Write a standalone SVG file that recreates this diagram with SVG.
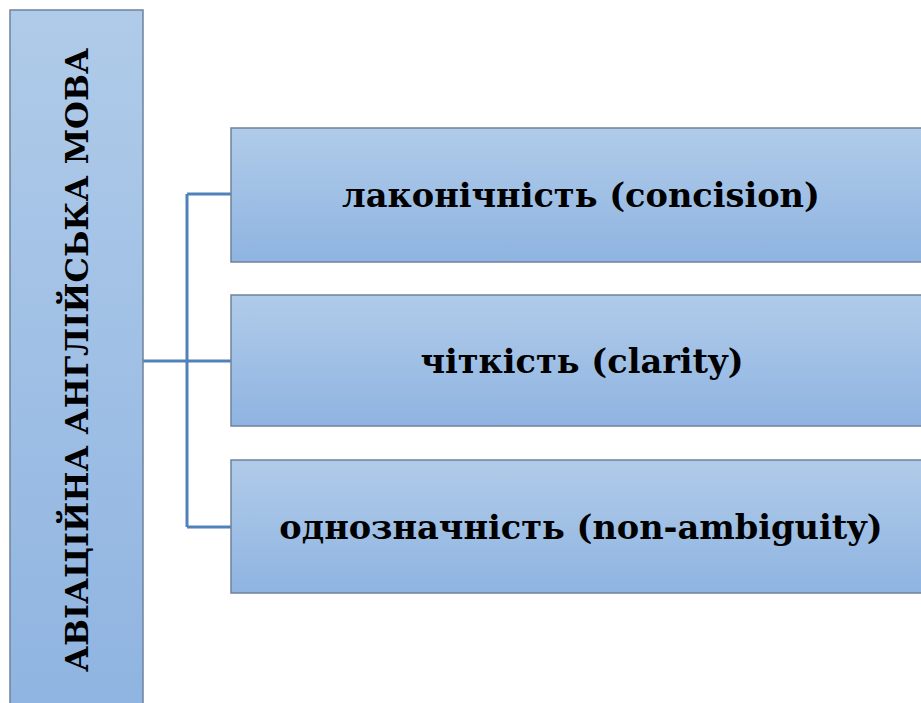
<svg xmlns="http://www.w3.org/2000/svg" width="921" height="703" viewBox="0 0 921 703">
<style>
.box{fill:url(#g);stroke:#6f829b;stroke-width:1.5}
.conn{fill:none;stroke:#5081b8;stroke-width:3}
.t{font-family:'DejaVu Serif',serif;font-weight:700;fill:#000;text-anchor:middle;dominant-baseline:central}
</style>
<defs>
<linearGradient id="g" x1="0" y1="0" x2="0" y2="1">
<stop offset="0" stop-color="#b0cbe9"/>
<stop offset="1" stop-color="#8fb4e1"/>
</linearGradient>
</defs>
<rect width="921" height="703" fill="#fff"/>
<g id="connectors">
<path class="conn" d="M143 361H231M187 194V527M187 194H231M187 527H231"/>
</g>
<g id="root">
<rect class="box" x="10" y="10" width="133" height="710"/>
<text class="t" transform="translate(77 360) rotate(-90)" font-size="32">АВІАЦІЙНА АНГЛІЙСЬКА МОВА</text>
</g>
<g id="n1">
<rect class="box" x="231" y="128" width="710" height="134"/>
<text class="t" x="581" y="195" font-size="33.6">лаконічність (concision)</text>
</g>
<g id="n2">
<rect class="box" x="231" y="295" width="710" height="131"/>
<text class="t" x="582" y="361" font-size="33.6">чіткість (clarity)</text>
</g>
<g id="n3">
<rect class="box" x="231" y="460" width="710" height="133"/>
<text class="t" x="581" y="527" font-size="33.6">однозначність (non-ambiguity)</text>
</g>
</svg>
